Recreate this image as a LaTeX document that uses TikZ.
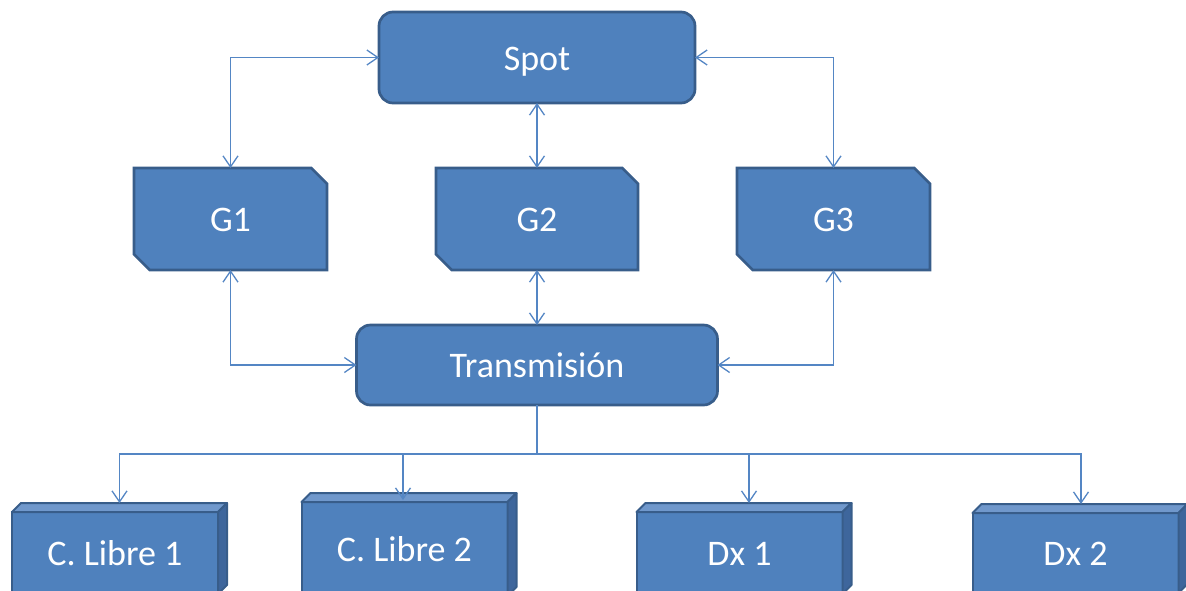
\documentclass[tikz,border=0pt]{standalone}
\usepackage{fontspec}
\setmainfont{Carlito}
\usetikzlibrary{shapes.misc,arrows.meta}

\definecolor{boxfill}{RGB}{79,129,189}
\definecolor{boxline}{RGB}{56,93,138}
\definecolor{linkblue}{RGB}{84,134,196}
\definecolor{topside}{RGB}{112,152,204}
\definecolor{rightside}{RGB}{62,102,156}

\tikzset{
  box/.style={fill=boxfill, draw=boxline, line width=2.7pt, outer sep=0pt, inner sep=0pt,
    text=white, font=\fontsize{36}{42}\selectfont, text height=25pt, text depth=0pt},
  hub/.style={box, rounded corners=14pt},
  gen/.style={box, chamfered rectangle, chamfered rectangle corners={north east,south west},
    chamfered rectangle xsep=18pt, minimum width=193pt, minimum height=102pt},
  front/.style={box, line width=2pt, minimum width=206pt, minimum height=82pt},
  link/.style={draw=linkblue, line width=1.3pt},
  >={Straight Barb[length=11pt,width=15pt]}
}

\begin{document}
\begin{tikzpicture}
\useasboundingbox (0pt,0pt) rectangle (1186pt,-590pt);
\clip (0pt,0pt) rectangle (1186pt,-590pt);

\node (spot) [hub, minimum width=316pt, minimum height=91pt] at (537pt, -57.5pt) {Spot};
\node (g1) [gen] at (230.5pt, -219pt) {G1};
\node (g2) [gen, minimum width=202pt] at (537pt, -219pt) {G2};
\node (g3) [gen] at (833.5pt, -219pt) {G3};
\node (trans) [hub, minimum width=361pt, minimum height=80pt] at (537pt, -365pt) {Transmisión};

\node (cl1) [front] at (115pt, -553pt) {C. Libre 1};
\node (cl2) [front, minimum height=94pt] at (404.5pt, -549pt) {C. Libre 2};
\node (dx1) [front] at (739.5pt, -553pt) {Dx 1};
\node (dx2) [front, minimum height=80pt] at (1075.5pt, -553pt) {Dx 2};

% top and right faces of the bottom boxes
\foreach \n in {cl1,cl2,dx1,dx2} {
  \filldraw[fill=topside, draw=boxline, line width=2pt, line join=round]
    (\n.north west) -- ++(9pt,9pt) -- ([shift={(9pt,9pt)}]\n.north east) -- (\n.north east) -- cycle;
  \filldraw[fill=rightside, draw=boxline, line width=2pt, line join=round]
    (\n.north east) -- ++(9pt,9pt) -- ([shift={(9pt,9pt)}]\n.south east) -- (\n.south east) -- cycle;
}

\coordinate (bus) at (537pt, -454pt);

\draw [link, <->] (g1.north) |- (spot.west);
\draw [link, <->] (g2.north) -- (spot.south);
\draw [link, <->] (g3.north) |- (spot.east);
\draw [link, <->] (g1.south) |- (trans.west);
\draw [link, <->] (g2.south) -- (trans.north);
\draw [link, <->] (g3.south) |- (trans.east);

\draw [link] (trans.south) -- (bus);
\draw [link, ->] (bus) -| ([shift={(4.5pt,9pt)}]cl1.north);
\draw [link, ->] (bus) -| ([shift={(-1.5pt,2pt)}]cl2.north);
\draw [link, ->] (bus) -| ([shift={(9.5pt,9pt)}]dx1.north);
\draw [link, ->] (bus) -| ([shift={(5.5pt,9pt)}]dx2.north);
\end{tikzpicture}
\end{document}
